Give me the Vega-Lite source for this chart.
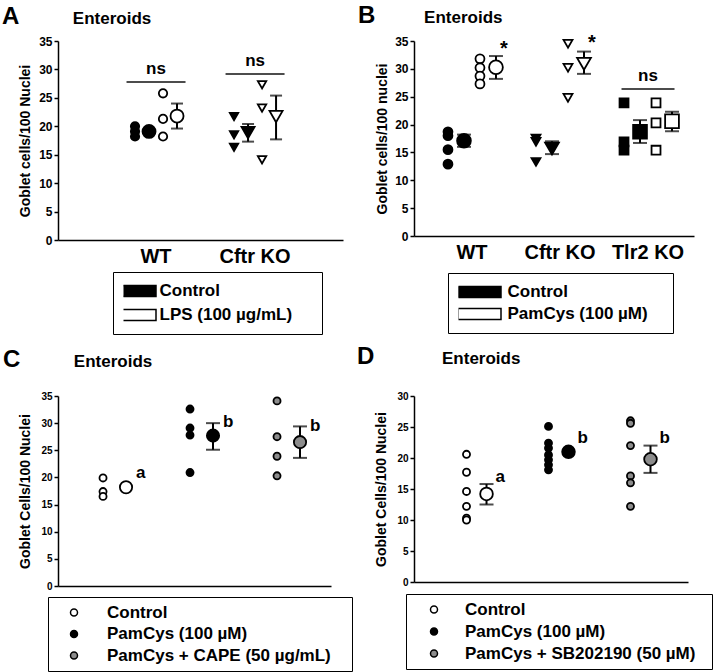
{
  "$schema": "https://vega.github.io/schema/vega-lite/v6.json",
  "padding": {"left": 2, "top": 3, "right": 0, "bottom": 0},
  "bounds": "flush",
  "columns": 2,
  "spacing": {"row": 156, "column": 71},
  "resolve": {
    "scale": {"fill": "independent", "shape": "independent", "size": "independent", "xOffset": "independent", "x": "independent", "y": "independent"},
    "legend": {"fill": "independent"}
  },
  "datasets": {
    "A": [
      {"genotype": "WT", "treatment": "Control", "series": "Control individual", "stat": "Individual", "value": 20.0},
      {"genotype": "WT", "treatment": "Control", "series": "Control individual", "stat": "Individual", "value": 19.1},
      {"genotype": "WT", "treatment": "Control", "series": "Control individual", "stat": "Individual", "value": 18.2},
      {"genotype": "WT", "treatment": "Control", "series": "Control mean", "stat": "Mean", "value": 19.1},
      {"genotype": "WT", "treatment": "LPS (100 µg/mL)", "series": "LPS individual", "stat": "Individual", "value": 25.8},
      {"genotype": "WT", "treatment": "LPS (100 µg/mL)", "series": "LPS individual", "stat": "Individual", "value": 21.3},
      {"genotype": "WT", "treatment": "LPS (100 µg/mL)", "series": "LPS individual", "stat": "Individual", "value": 18.2},
      {"genotype": "WT", "treatment": "LPS (100 µg/mL)", "series": "LPS mean", "stat": "Mean", "value": 21.8, "lo": 19.6, "hi": 24.0},
      {"genotype": "Cftr KO", "treatment": "Control", "series": "Control individual", "stat": "Individual", "value": 21.7},
      {"genotype": "Cftr KO", "treatment": "Control", "series": "Control individual", "stat": "Individual", "value": 18.5},
      {"genotype": "Cftr KO", "treatment": "Control", "series": "Control individual", "stat": "Individual", "value": 16.3},
      {"genotype": "Cftr KO", "treatment": "Control", "series": "Control mean", "stat": "Mean", "value": 18.9, "lo": 17.3, "hi": 20.4},
      {"genotype": "Cftr KO", "treatment": "LPS (100 µg/mL)", "series": "LPS individual", "stat": "Individual", "value": 27.3},
      {"genotype": "Cftr KO", "treatment": "LPS (100 µg/mL)", "series": "LPS individual", "stat": "Individual", "value": 23.2},
      {"genotype": "Cftr KO", "treatment": "LPS (100 µg/mL)", "series": "LPS individual", "stat": "Individual", "value": 14.1},
      {"genotype": "Cftr KO", "treatment": "LPS (100 µg/mL)", "series": "LPS mean", "stat": "Mean", "value": 21.7, "lo": 17.7, "hi": 25.4}
    ],
    "A_ann": [
      {"genotype": "WT", "label": "ns", "value": 27.8},
      {"genotype": "Cftr KO", "label": "ns", "value": 29.2}
    ],
    "B": [
      {"genotype": "WT", "treatment": "Control", "series": "Control individual", "stat": "Individual", "value": 18.7},
      {"genotype": "WT", "treatment": "Control", "series": "Control individual", "stat": "Individual", "value": 18.0},
      {"genotype": "WT", "treatment": "Control", "series": "Control individual", "stat": "Individual", "value": 15.5},
      {"genotype": "WT", "treatment": "Control", "series": "Control individual", "stat": "Individual", "value": 12.9},
      {"genotype": "WT", "treatment": "Control", "series": "Control mean", "stat": "Mean", "value": 17.1, "lo": 16.0, "hi": 18.2},
      {"genotype": "WT", "treatment": "PamCys (100 µM)", "series": "PamCys individual", "stat": "Individual", "value": 31.8},
      {"genotype": "WT", "treatment": "PamCys (100 µM)", "series": "PamCys individual", "stat": "Individual", "value": 30.2},
      {"genotype": "WT", "treatment": "PamCys (100 µM)", "series": "PamCys individual", "stat": "Individual", "value": 28.7},
      {"genotype": "WT", "treatment": "PamCys (100 µM)", "series": "PamCys individual", "stat": "Individual", "value": 27.3},
      {"genotype": "WT", "treatment": "PamCys (100 µM)", "series": "PamCys mean", "stat": "Mean", "value": 30.3, "lo": 28.2, "hi": 32.3},
      {"genotype": "Cftr KO", "treatment": "Control", "series": "Control individual", "stat": "Individual", "value": 17.5},
      {"genotype": "Cftr KO", "treatment": "Control", "series": "Control individual", "stat": "Individual", "value": 16.9},
      {"genotype": "Cftr KO", "treatment": "Control", "series": "Control individual", "stat": "Individual", "value": 13.3},
      {"genotype": "Cftr KO", "treatment": "Control", "series": "Control mean", "stat": "Mean", "value": 15.7, "lo": 14.7, "hi": 17.0},
      {"genotype": "Cftr KO", "treatment": "PamCys (100 µM)", "series": "PamCys individual", "stat": "Individual", "value": 34.5},
      {"genotype": "Cftr KO", "treatment": "PamCys (100 µM)", "series": "PamCys individual", "stat": "Individual", "value": 30.2},
      {"genotype": "Cftr KO", "treatment": "PamCys (100 µM)", "series": "PamCys individual", "stat": "Individual", "value": 24.8},
      {"genotype": "Cftr KO", "treatment": "PamCys (100 µM)", "series": "PamCys mean", "stat": "Mean", "value": 30.9, "lo": 29.1, "hi": 33.1},
      {"genotype": "Tlr2 KO", "treatment": "Control", "series": "Control individual", "stat": "Individual", "value": 23.9},
      {"genotype": "Tlr2 KO", "treatment": "Control", "series": "Control individual", "stat": "Individual", "value": 16.9},
      {"genotype": "Tlr2 KO", "treatment": "Control", "series": "Control individual", "stat": "Individual", "value": 15.4},
      {"genotype": "Tlr2 KO", "treatment": "Control", "series": "Control mean", "stat": "Mean", "value": 18.7, "lo": 16.7, "hi": 20.8},
      {"genotype": "Tlr2 KO", "treatment": "PamCys (100 µM)", "series": "PamCys individual", "stat": "Individual", "value": 23.9},
      {"genotype": "Tlr2 KO", "treatment": "PamCys (100 µM)", "series": "PamCys individual", "stat": "Individual", "value": 20.3},
      {"genotype": "Tlr2 KO", "treatment": "PamCys (100 µM)", "series": "PamCys individual", "stat": "Individual", "value": 15.4},
      {"genotype": "Tlr2 KO", "treatment": "PamCys (100 µM)", "series": "PamCys mean", "stat": "Mean", "value": 20.6, "lo": 18.8, "hi": 22.3}
    ],
    "B_ns": [
      {"genotype": "Tlr2 KO", "label": "ns", "value": 26.4}
    ],
    "B_star": [
      {"genotype": "WT", "series": "PamCys mean", "label": "*", "value": 33.6},
      {"genotype": "Cftr KO", "series": "PamCys mean", "label": "*", "value": 34.7}
    ],
    "C": [
      {"group": "Control", "stat": "Individual", "value": 19.9},
      {"group": "Control", "stat": "Individual", "value": 17.4},
      {"group": "Control", "stat": "Individual", "value": 16.5},
      {"group": "Control", "stat": "Mean", "value": 18.2},
      {"group": "PamCys (100 µM)", "stat": "Individual", "value": 32.6},
      {"group": "PamCys (100 µM)", "stat": "Individual", "value": 29.1},
      {"group": "PamCys (100 µM)", "stat": "Individual", "value": 27.8},
      {"group": "PamCys (100 µM)", "stat": "Individual", "value": 20.9},
      {"group": "PamCys (100 µM)", "stat": "Mean", "value": 27.7, "lo": 25.1, "hi": 30.0},
      {"group": "PamCys + CAPE (50 µg/mL)", "stat": "Individual", "value": 34.1},
      {"group": "PamCys + CAPE (50 µg/mL)", "stat": "Individual", "value": 27.5},
      {"group": "PamCys + CAPE (50 µg/mL)", "stat": "Individual", "value": 23.9},
      {"group": "PamCys + CAPE (50 µg/mL)", "stat": "Individual", "value": 20.3},
      {"group": "PamCys + CAPE (50 µg/mL)", "stat": "Mean", "value": 26.5, "lo": 23.6, "hi": 29.4}
    ],
    "C_ann": [
      {"group": "Control", "stat": "Mean", "label": "a", "value": 20.8},
      {"group": "PamCys (100 µM)", "stat": "Mean", "label": "b", "value": 30.3},
      {"group": "PamCys + CAPE (50 µg/mL)", "stat": "Mean", "label": "b", "value": 29.4}
    ],
    "D": [
      {"group": "Control", "stat": "Individual", "value": 20.6},
      {"group": "Control", "stat": "Individual", "value": 17.7},
      {"group": "Control", "stat": "Individual", "value": 14.6},
      {"group": "Control", "stat": "Individual", "value": 12.2},
      {"group": "Control", "stat": "Individual", "value": 10.3},
      {"group": "Control", "stat": "Individual", "value": 10.0},
      {"group": "Control", "stat": "Mean", "value": 14.2, "lo": 12.5, "hi": 15.8},
      {"group": "PamCys (100 µM)", "stat": "Individual", "value": 25.1},
      {"group": "PamCys (100 µM)", "stat": "Individual", "value": 22.4},
      {"group": "PamCys (100 µM)", "stat": "Individual", "value": 21.6},
      {"group": "PamCys (100 µM)", "stat": "Individual", "value": 20.5},
      {"group": "PamCys (100 µM)", "stat": "Individual", "value": 19.7},
      {"group": "PamCys (100 µM)", "stat": "Individual", "value": 18.9},
      {"group": "PamCys (100 µM)", "stat": "Individual", "value": 18.1},
      {"group": "PamCys (100 µM)", "stat": "Mean", "value": 21.0},
      {"group": "PamCys + SB202190 (50 µM)", "stat": "Individual", "value": 26.0},
      {"group": "PamCys + SB202190 (50 µM)", "stat": "Individual", "value": 25.6},
      {"group": "PamCys + SB202190 (50 µM)", "stat": "Individual", "value": 22.0},
      {"group": "PamCys + SB202190 (50 µM)", "stat": "Individual", "value": 17.1},
      {"group": "PamCys + SB202190 (50 µM)", "stat": "Individual", "value": 16.0},
      {"group": "PamCys + SB202190 (50 µM)", "stat": "Individual", "value": 12.2},
      {"group": "PamCys + SB202190 (50 µM)", "stat": "Mean", "value": 19.8, "lo": 17.6, "hi": 22.0}
    ],
    "D_ann": [
      {"group": "Control", "stat": "Mean", "label": "a", "value": 17.0},
      {"group": "PamCys (100 µM)", "stat": "Mean", "label": "b", "value": 23.3},
      {"group": "PamCys + SB202190 (50 µM)", "stat": "Mean", "label": "b", "value": 23.3}
    ]
  },
  "concat": [
    {
      "width": 285,
      "height": 199,
      "title": {"text": "A", "subtitle": "\u200b\u00a0\u00a0\u00a0\u00a0\u00a0\u00a0\u00a0\u00a0\u00a0\u00a0\u00a0\u00a0\u00a0\u00a0\u00a0Enteroids", "anchor": "start", "frame": "group", "dx": -56, "offset": 6, "fontSize": 24, "font": "Liberation Sans", "fontWeight": "bold", "color": "black", "subtitleFont": "Liberation Sans", "subtitleFontSize": 17, "subtitleFontWeight": "bold", "subtitleColor": "black", "subtitlePadding": -18},
      "encoding": {
        "x": {"field": "genotype", "type": "nominal", "title": null, "scale": {"domain": ["WT", "Cftr KO"], "paddingInner": 0.394, "paddingOuter": 0.636, "align": 0.54}, "axis": {"ticks": false, "labelAngle": 0, "labelFontSize": 20, "labelPadding": 6, "title": null}}
      },
      "layer": [
        {
          "data": {"name": "A"},
          "mark": {"type": "rule", "strokeWidth": 2, "color": "black"},
          "encoding": {
            "xOffset": {"field": "series", "type": "nominal", "scale": {"domain": ["Control individual", "Control mean", "LPS individual", "LPS mean"], "paddingInner": 0, "paddingOuter": 0.143}},
            "y": {"field": "lo", "type": "quantitative", "scale": {"domain": [0, 35], "nice": false}, "axis": {"title": "Goblet cells/100 Nuclei", "values": [0, 5, 10, 15, 20, 25, 30, 35], "labelFontSize": 12, "titlePadding": 6}},
            "y2": {"field": "hi"}
          }
        },
        {
          "data": {"name": "A"},
          "mark": {"type": "tick", "orient": "horizontal", "size": 12, "thickness": 2, "color": "black"},
          "encoding": {
            "xOffset": {"field": "series", "type": "nominal", "scale": {"domain": ["Control individual", "Control mean", "LPS individual", "LPS mean"], "paddingInner": 0, "paddingOuter": 0.143}},
            "y": {"field": "hi", "type": "quantitative", "scale": {"domain": [0, 35], "nice": false}, "axis": {"title": "Goblet cells/100 Nuclei", "values": [0, 5, 10, 15, 20, 25, 30, 35], "labelFontSize": 12, "titlePadding": 6}}
          }
        },
        {
          "data": {"name": "A"},
          "mark": {"type": "tick", "orient": "horizontal", "size": 12, "thickness": 2, "color": "black"},
          "encoding": {
            "xOffset": {"field": "series", "type": "nominal", "scale": {"domain": ["Control individual", "Control mean", "LPS individual", "LPS mean"], "paddingInner": 0, "paddingOuter": 0.143}},
            "y": {"field": "lo", "type": "quantitative", "scale": {"domain": [0, 35], "nice": false}, "axis": {"title": "Goblet cells/100 Nuclei", "values": [0, 5, 10, 15, 20, 25, 30, 35], "labelFontSize": 12, "titlePadding": 6}}
          }
        },
        {
          "data": {"name": "A"},
          "mark": {"type": "point", "filled": true, "stroke": "black", "strokeWidth": 1.8, "opacity": 1},
          "encoding": {
            "xOffset": {"field": "series", "type": "nominal", "scale": {"domain": ["Control individual", "Control mean", "LPS individual", "LPS mean"], "paddingInner": 0, "paddingOuter": 0.143}},
            "y": {"field": "value", "type": "quantitative", "scale": {"domain": [0, 35], "nice": false}, "axis": {"title": "Goblet cells/100 Nuclei", "values": [0, 5, 10, 15, 20, 25, 30, 35], "labelFontSize": 12, "titlePadding": 6}},
            "fill": {"field": "treatment", "type": "nominal", "scale": {"domain": ["Control", "LPS (100 µg/mL)"], "range": ["black", "white"]},
              "legend": {"title": null, "orient": "none", "legendX": 55, "legendY": 231, "direction": "vertical", "symbolType": "M-1,-0.32H1V0.32H-1Z", "symbolSize": 1156, "symbolStrokeColor": "black", "symbolStrokeWidth": 1.5, "symbolOffset": -2.5, "labelOffset": 2.5, "labelFont": "Liberation Sans", "labelFontSize": 17, "labelFontWeight": "bold", "labelColor": "black", "labelLimit": 400, "labelExpr": "datum.label + '\u00a0\u00a0\u00a0\u00a0\u200b'", "padding": 10.5, "rowPadding": 6, "clipHeight": 17, "strokeColor": "black", "fillColor": "white"}},
            "shape": {"field": "genotype", "type": "nominal", "scale": {"domain": ["WT", "Cftr KO"], "range": ["circle", "triangle-down"]}, "legend": null},
            "size": {"field": "stat", "type": "ordinal", "scale": {"domain": ["Individual", "Mean"], "range": [70, 170]}, "legend": null}
          }
        },
        {
          "data": {"name": "A_ann"},
          "mark": {"type": "tick", "orient": "horizontal", "size": 59, "thickness": 2, "color": "black"},
          "encoding": {
            "y": {"field": "value", "type": "quantitative", "scale": {"domain": [0, 35], "nice": false}, "axis": {"title": "Goblet cells/100 Nuclei", "values": [0, 5, 10, 15, 20, 25, 30, 35], "labelFontSize": 12, "titlePadding": 6}}
          }
        },
        {
          "data": {"name": "A_ann"},
          "mark": {"type": "text", "baseline": "bottom", "dy": -4, "fontSize": 17, "fontWeight": "bold", "font": "Liberation Sans", "color": "black"},
          "encoding": {
            "y": {"field": "value", "type": "quantitative", "scale": {"domain": [0, 35], "nice": false}, "axis": {"title": "Goblet cells/100 Nuclei", "values": [0, 5, 10, 15, 20, 25, 30, 35], "labelFontSize": 12, "titlePadding": 6}},
            "text": {"field": "label"}
          }
        }
      ]
    },
    {
      "width": 280,
      "height": 195,
      "title": {"text": "B", "subtitle": "\u200b\u00a0\u00a0\u00a0\u00a0\u00a0\u00a0\u00a0\u00a0\u00a0\u00a0\u00a0\u00a0\u00a0\u00a0Enteroids", "anchor": "start", "frame": "group", "dx": -56, "offset": 5, "fontSize": 24, "font": "Liberation Sans", "fontWeight": "bold", "color": "black", "subtitleFont": "Liberation Sans", "subtitleFontSize": 17, "subtitleFontWeight": "bold", "subtitleColor": "black", "subtitlePadding": -18},
      "encoding": {
        "x": {"field": "genotype", "type": "nominal", "title": null, "scale": {"domain": ["WT", "Cftr KO", "Tlr2 KO"], "paddingInner": 0.273, "paddingOuter": 0.227, "align": 0.65}, "axis": {"ticks": false, "labelAngle": 0, "labelFontSize": 20, "labelPadding": 6, "title": null}}
      },
      "layer": [
        {
          "data": {"name": "B"},
          "mark": {"type": "rule", "strokeWidth": 2, "color": "black"},
          "encoding": {
            "xOffset": {"field": "series", "type": "nominal", "scale": {"domain": ["Control individual", "Control mean", "PamCys individual", "PamCys mean"], "paddingInner": 0, "paddingOuter": 0}},
            "y": {"field": "lo", "type": "quantitative", "scale": {"domain": [0, 35], "nice": false}, "axis": {"title": "Goblet cells/100 nuclei", "values": [0, 5, 10, 15, 20, 25, 30, 35], "labelFontSize": 12, "titlePadding": 5}},
            "y2": {"field": "hi"}
          }
        },
        {
          "data": {"name": "B"},
          "mark": {"type": "tick", "orient": "horizontal", "size": 14, "thickness": 2, "color": "black"},
          "encoding": {
            "xOffset": {"field": "series", "type": "nominal", "scale": {"domain": ["Control individual", "Control mean", "PamCys individual", "PamCys mean"], "paddingInner": 0, "paddingOuter": 0}},
            "y": {"field": "hi", "type": "quantitative", "scale": {"domain": [0, 35], "nice": false}, "axis": {"title": "Goblet cells/100 nuclei", "values": [0, 5, 10, 15, 20, 25, 30, 35], "labelFontSize": 12, "titlePadding": 5}}
          }
        },
        {
          "data": {"name": "B"},
          "mark": {"type": "tick", "orient": "horizontal", "size": 14, "thickness": 2, "color": "black"},
          "encoding": {
            "xOffset": {"field": "series", "type": "nominal", "scale": {"domain": ["Control individual", "Control mean", "PamCys individual", "PamCys mean"], "paddingInner": 0, "paddingOuter": 0}},
            "y": {"field": "lo", "type": "quantitative", "scale": {"domain": [0, 35], "nice": false}, "axis": {"title": "Goblet cells/100 nuclei", "values": [0, 5, 10, 15, 20, 25, 30, 35], "labelFontSize": 12, "titlePadding": 5}}
          }
        },
        {
          "data": {"name": "B"},
          "mark": {"type": "point", "filled": true, "stroke": "black", "strokeWidth": 1.8, "opacity": 1},
          "encoding": {
            "xOffset": {"field": "series", "type": "nominal", "scale": {"domain": ["Control individual", "Control mean", "PamCys individual", "PamCys mean"], "paddingInner": 0, "paddingOuter": 0}},
            "y": {"field": "value", "type": "quantitative", "scale": {"domain": [0, 35], "nice": false}, "axis": {"title": "Goblet cells/100 nuclei", "values": [0, 5, 10, 15, 20, 25, 30, 35], "labelFontSize": 12, "titlePadding": 5}},
            "fill": {"field": "treatment", "type": "nominal", "scale": {"domain": ["Control", "PamCys (100 µM)"], "range": ["black", "white"]},
              "legend": {"title": null, "orient": "none", "legendX": 34, "legendY": 232, "direction": "vertical", "symbolType": "M-1,-0.26H1V0.26H-1Z", "symbolSize": 1849, "symbolStrokeColor": "black", "symbolStrokeWidth": 1.5, "symbolOffset": -1.5, "labelOffset": 5.5, "labelFont": "Liberation Sans", "labelFontSize": 17, "labelFontWeight": "bold", "labelColor": "black", "labelLimit": 400, "labelExpr": "datum.label + '\u00a0\u00a0\u00a0\u200b'", "padding": 10.5, "rowPadding": 4, "clipHeight": 17, "strokeColor": "black", "fillColor": "white"}},
            "shape": {"field": "genotype", "type": "nominal", "scale": {"domain": ["WT", "Cftr KO", "Tlr2 KO"], "range": ["circle", "triangle-down", "square"]}, "legend": null},
            "size": {"field": "stat", "type": "ordinal", "scale": {"domain": ["Individual", "Mean"], "range": [80, 190]}, "legend": null}
          }
        },
        {
          "data": {"name": "B_ns"},
          "mark": {"type": "tick", "orient": "horizontal", "size": 53, "thickness": 2, "color": "black"},
          "encoding": {
            "y": {"field": "value", "type": "quantitative", "scale": {"domain": [0, 35], "nice": false}, "axis": {"title": "Goblet cells/100 nuclei", "values": [0, 5, 10, 15, 20, 25, 30, 35], "labelFontSize": 12, "titlePadding": 5}}
          }
        },
        {
          "data": {"name": "B_ns"},
          "mark": {"type": "text", "baseline": "bottom", "dy": -4, "fontSize": 17, "fontWeight": "bold", "font": "Liberation Sans", "color": "black"},
          "encoding": {
            "y": {"field": "value", "type": "quantitative", "scale": {"domain": [0, 35], "nice": false}, "axis": {"title": "Goblet cells/100 nuclei", "values": [0, 5, 10, 15, 20, 25, 30, 35], "labelFontSize": 12, "titlePadding": 5}},
            "text": {"field": "label"}
          }
        },
        {
          "data": {"name": "B_star"},
          "mark": {"type": "text", "baseline": "middle", "align": "center", "dx": 8, "fontSize": 20, "fontWeight": "bold", "font": "Liberation Sans", "color": "black"},
          "encoding": {
            "xOffset": {"field": "series", "type": "nominal", "scale": {"domain": ["Control individual", "Control mean", "PamCys individual", "PamCys mean"], "paddingInner": 0, "paddingOuter": 0}},
            "y": {"field": "value", "type": "quantitative", "scale": {"domain": [0, 35], "nice": false}, "axis": {"title": "Goblet cells/100 nuclei", "values": [0, 5, 10, 15, 20, 25, 30, 35], "labelFontSize": 12, "titlePadding": 5}},
            "text": {"field": "label"}
          }
        }
      ]
    },
    {
      "width": 273,
      "height": 190,
      "title": {"text": "C", "subtitle": "\u200b\u00a0\u00a0\u00a0\u00a0\u00a0\u00a0\u00a0\u00a0\u00a0\u00a0\u00a0\u00a0\u00a0\u00a0\u00a0Enteroids", "anchor": "start", "frame": "group", "dx": -55, "offset": 19, "fontSize": 24, "font": "Liberation Sans", "fontWeight": "bold", "color": "black", "subtitleFont": "Liberation Sans", "subtitleFontSize": 17, "subtitleFontWeight": "bold", "subtitleColor": "black", "subtitlePadding": -18},
      "encoding": {
        "x": {"field": "group", "type": "nominal", "title": null, "scale": {"domain": ["Control", "PamCys (100 µM)", "PamCys + CAPE (50 µg/mL)"], "paddingInner": 0.4, "paddingOuter": 0.269, "align": 0.65}, "axis": {"ticks": false, "labels": false, "title": null}}
      },
      "layer": [
        {
          "data": {"name": "C"},
          "mark": {"type": "rule", "strokeWidth": 2, "color": "black"},
          "encoding": {
            "xOffset": {"field": "stat", "type": "nominal", "scale": {"domain": ["Individual", "Mean"], "paddingInner": 0, "paddingOuter": 0.135}},
            "y": {"field": "lo", "type": "quantitative", "scale": {"domain": [0, 35], "nice": false}, "axis": {"title": "Goblet Cells/100 Nuclei", "values": [0, 5, 10, 15, 20, 25, 30, 35], "labelFontSize": 10, "titlePadding": 8}},
            "y2": {"field": "hi"}
          }
        },
        {
          "data": {"name": "C"},
          "mark": {"type": "tick", "orient": "horizontal", "size": 14, "thickness": 2, "color": "black"},
          "encoding": {
            "xOffset": {"field": "stat", "type": "nominal", "scale": {"domain": ["Individual", "Mean"], "paddingInner": 0, "paddingOuter": 0.135}},
            "y": {"field": "hi", "type": "quantitative", "scale": {"domain": [0, 35], "nice": false}, "axis": {"title": "Goblet Cells/100 Nuclei", "values": [0, 5, 10, 15, 20, 25, 30, 35], "labelFontSize": 10, "titlePadding": 8}}
          }
        },
        {
          "data": {"name": "C"},
          "mark": {"type": "tick", "orient": "horizontal", "size": 14, "thickness": 2, "color": "black"},
          "encoding": {
            "xOffset": {"field": "stat", "type": "nominal", "scale": {"domain": ["Individual", "Mean"], "paddingInner": 0, "paddingOuter": 0.135}},
            "y": {"field": "lo", "type": "quantitative", "scale": {"domain": [0, 35], "nice": false}, "axis": {"title": "Goblet Cells/100 Nuclei", "values": [0, 5, 10, 15, 20, 25, 30, 35], "labelFontSize": 10, "titlePadding": 8}}
          }
        },
        {
          "data": {"name": "C"},
          "mark": {"type": "point", "filled": true, "stroke": "black", "strokeWidth": 1.8, "opacity": 1, "shape": "circle"},
          "encoding": {
            "xOffset": {"field": "stat", "type": "nominal", "scale": {"domain": ["Individual", "Mean"], "paddingInner": 0, "paddingOuter": 0.135}},
            "y": {"field": "value", "type": "quantitative", "scale": {"domain": [0, 35], "nice": false}, "axis": {"title": "Goblet Cells/100 Nuclei", "values": [0, 5, 10, 15, 20, 25, 30, 35], "labelFontSize": 10, "titlePadding": 8}},
            "fill": {"field": "group", "type": "nominal", "scale": {"domain": ["Control", "PamCys (100 µM)", "PamCys + CAPE (50 µg/mL)"], "range": ["white", "black", "#8c8c8c"]},
              "legend": {"title": null, "orient": "none", "legendX": -10, "legendY": 201, "direction": "vertical", "symbolType": "circle", "symbolSize": 49, "symbolStrokeColor": "black", "symbolStrokeWidth": 1.5, "symbolOffset": 10.5, "labelOffset": 24.5, "labelFont": "Liberation Sans", "labelFontSize": 17, "labelFontWeight": "bold", "labelColor": "black", "labelLimit": 400, "labelExpr": "datum.label + '\u00a0\u00a0\u00a0\u200b'", "padding": 7, "rowPadding": 3.5, "clipHeight": 17, "strokeColor": "black", "fillColor": "white"}},
            "size": {"field": "stat", "type": "ordinal", "scale": {"domain": ["Individual", "Mean"], "range": [50, 150]}, "legend": null}
          }
        },
        {
          "data": {"name": "C_ann"},
          "mark": {"type": "text", "baseline": "middle", "align": "left", "dx": 10, "fontSize": 17, "fontWeight": "bold", "font": "Liberation Sans", "color": "black"},
          "encoding": {
            "xOffset": {"field": "stat", "type": "nominal", "scale": {"domain": ["Individual", "Mean"], "paddingInner": 0, "paddingOuter": 0.135}},
            "y": {"field": "value", "type": "quantitative", "scale": {"domain": [0, 35], "nice": false}, "axis": {"title": "Goblet Cells/100 Nuclei", "values": [0, 5, 10, 15, 20, 25, 30, 35], "labelFontSize": 10, "titlePadding": 8}},
            "text": {"field": "label"}
          }
        }
      ]
    },
    {
      "width": 274,
      "height": 186,
      "title": {"text": "D", "subtitle": "\u200b\u00a0\u00a0\u00a0\u00a0\u00a0\u00a0\u00a0\u00a0\u00a0\u00a0\u00a0\u00a0\u00a0\u00a0\u00a0\u00a0\u00a0\u00a0Enteroids", "anchor": "start", "frame": "group", "dx": -57, "offset": 22, "fontSize": 24, "font": "Liberation Sans", "fontWeight": "bold", "color": "black", "subtitleFont": "Liberation Sans", "subtitleFontSize": 17, "subtitleFontWeight": "bold", "subtitleColor": "black", "subtitlePadding": -18},
      "encoding": {
        "x": {"field": "group", "type": "nominal", "title": null, "scale": {"domain": ["Control", "PamCys (100 µM)", "PamCys + SB202190 (50 µM)"], "paddingInner": 0.39, "paddingOuter": 0.366, "align": 0.625}, "axis": {"ticks": false, "labels": false, "title": null}}
      },
      "layer": [
        {
          "data": {"name": "D"},
          "mark": {"type": "rule", "strokeWidth": 2, "color": "black"},
          "encoding": {
            "xOffset": {"field": "stat", "type": "nominal", "scale": {"domain": ["Individual", "Mean"], "paddingInner": 0, "paddingOuter": 0.25}},
            "y": {"field": "lo", "type": "quantitative", "scale": {"domain": [0, 30], "nice": false}, "axis": {"title": "Goblet Cells/100 Nuclei", "values": [0, 5, 10, 15, 20, 25, 30], "labelFontSize": 10, "titlePadding": 8}},
            "y2": {"field": "hi"}
          }
        },
        {
          "data": {"name": "D"},
          "mark": {"type": "tick", "orient": "horizontal", "size": 14, "thickness": 2, "color": "black"},
          "encoding": {
            "xOffset": {"field": "stat", "type": "nominal", "scale": {"domain": ["Individual", "Mean"], "paddingInner": 0, "paddingOuter": 0.25}},
            "y": {"field": "hi", "type": "quantitative", "scale": {"domain": [0, 30], "nice": false}, "axis": {"title": "Goblet Cells/100 Nuclei", "values": [0, 5, 10, 15, 20, 25, 30], "labelFontSize": 10, "titlePadding": 8}}
          }
        },
        {
          "data": {"name": "D"},
          "mark": {"type": "tick", "orient": "horizontal", "size": 14, "thickness": 2, "color": "black"},
          "encoding": {
            "xOffset": {"field": "stat", "type": "nominal", "scale": {"domain": ["Individual", "Mean"], "paddingInner": 0, "paddingOuter": 0.25}},
            "y": {"field": "lo", "type": "quantitative", "scale": {"domain": [0, 30], "nice": false}, "axis": {"title": "Goblet Cells/100 Nuclei", "values": [0, 5, 10, 15, 20, 25, 30], "labelFontSize": 10, "titlePadding": 8}}
          }
        },
        {
          "data": {"name": "D"},
          "mark": {"type": "point", "filled": true, "stroke": "black", "strokeWidth": 1.8, "opacity": 1, "shape": "circle"},
          "encoding": {
            "xOffset": {"field": "stat", "type": "nominal", "scale": {"domain": ["Individual", "Mean"], "paddingInner": 0, "paddingOuter": 0.25}},
            "y": {"field": "value", "type": "quantitative", "scale": {"domain": [0, 30], "nice": false}, "axis": {"title": "Goblet Cells/100 Nuclei", "values": [0, 5, 10, 15, 20, 25, 30], "labelFontSize": 10, "titlePadding": 8}},
            "fill": {"field": "group", "type": "nominal", "scale": {"domain": ["Control", "PamCys (100 µM)", "PamCys + SB202190 (50 µM)"], "range": ["white", "black", "#8c8c8c"]},
              "legend": {"title": null, "orient": "none", "legendX": -8, "legendY": 198, "direction": "vertical", "symbolType": "circle", "symbolSize": 49, "symbolStrokeColor": "black", "symbolStrokeWidth": 1.5, "symbolOffset": 12.5, "labelOffset": 22.5, "labelFont": "Liberation Sans", "labelFontSize": 17, "labelFontWeight": "bold", "labelColor": "black", "labelLimit": 400, "labelExpr": "datum.label + '\u00a0\u00a0\u200b'", "padding": 7, "rowPadding": 4, "clipHeight": 17, "strokeColor": "black", "fillColor": "white"}},
            "size": {"field": "stat", "type": "ordinal", "scale": {"domain": ["Individual", "Mean"], "range": [50, 160]}, "legend": null}
          }
        },
        {
          "data": {"name": "D_ann"},
          "mark": {"type": "text", "baseline": "middle", "align": "left", "dx": 9, "fontSize": 17, "fontWeight": "bold", "font": "Liberation Sans", "color": "black"},
          "encoding": {
            "xOffset": {"field": "stat", "type": "nominal", "scale": {"domain": ["Individual", "Mean"], "paddingInner": 0, "paddingOuter": 0.25}},
            "y": {"field": "value", "type": "quantitative", "scale": {"domain": [0, 30], "nice": false}, "axis": {"title": "Goblet Cells/100 Nuclei", "values": [0, 5, 10, 15, 20, 25, 30], "labelFontSize": 10, "titlePadding": 8}},
            "text": {"field": "label"}
          }
        }
      ]
    }
  ],
  "config": {
    "font": "Liberation Sans",
    "view": {"stroke": null},
    "axis": {"grid": false, "domainColor": "black", "domainWidth": 1.5, "tickColor": "black", "tickWidth": 1.5, "labelColor": "black", "labelFont": "Liberation Sans", "labelFontWeight": "bold", "titleColor": "black", "titleFont": "Liberation Sans", "titleFontWeight": "bold"},
    "axisY": {"tickSize": 4, "labelPadding": 2, "titleFontSize": 14}
  }
}
